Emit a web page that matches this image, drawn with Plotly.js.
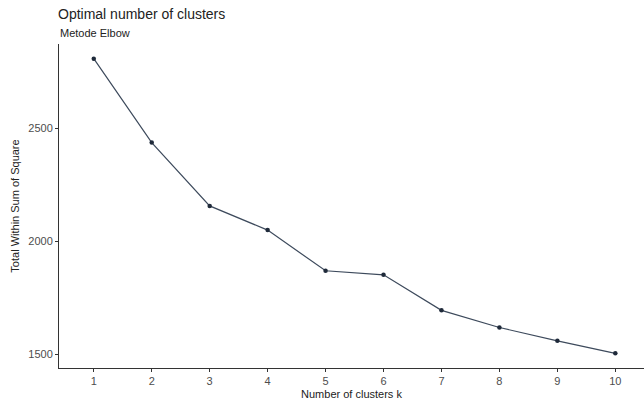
<!DOCTYPE html>
<html>
<head>
<meta charset="utf-8">
<script src="https://cdn.plot.ly/plotly-3.0.1.min.js"></script>
<style>html,body{margin:0;padding:0;background:#fff;}#chart{width:644px;height:405px;}</style>
</head>
<body>
<div id="chart"></div>
<script>
const clustersK = [1, 2, 3, 4, 5, 6, 7, 8, 9, 10];
const withinSS = [2807, 2436, 2156, 2049, 1869, 1851, 1694, 1618, 1559, 1504];
const yTicks = [1500, 2000, 2500];

const trace = {
  x: clustersK,
  y: withinSS,
  type: 'scatter',
  mode: 'lines+markers',
  line: {color: '#3d4a5c', width: 1.2},
  marker: {color: '#1f2a3a', size: 4.5},
  hoverinfo: 'x+y'
};

const layout = {
  width: 644,
  height: 405,
  margin: {l: 59, r: 0, t: 44, b: 37},
  paper_bgcolor: '#ffffff',
  plot_bgcolor: '#ffffff',
  showlegend: false,
  font: {family: 'Liberation Sans, Arial, sans-serif', color: '#4d4d4d', size: 11},
  title: {
    text: 'Optimal number of clusters',
    xref: 'container', x: 58 / 644, xanchor: 'left',
    yref: 'container', y: 1 - 14 / 405, yanchor: 'middle',
    font: {size: 14, color: '#222222', family: 'Liberation Sans, Arial, sans-serif'}
  },
  annotations: [{
    text: 'Metode Elbow',
    xref: 'paper', yref: 'paper',
    x: -1 / 585, y: 1 + 11 / 324,
    xanchor: 'left', yanchor: 'middle',
    showarrow: false,
    font: {size: 11, color: '#222222'}
  }],
  xaxis: {
    range: [0.4, 10.495],
    tickvals: clustersK,
    ticktext: clustersK.map(String),
    showgrid: false,
    zeroline: false,
    showline: true,
    linecolor: '#333333',
    linewidth: 1,
    ticks: 'outside',
    ticklen: 3,
    tickcolor: '#333333',
    tickfont: {size: 11, color: '#4d4d4d'},
    title: {text: 'Number of clusters k', standoff: 4, font: {size: 11, color: '#222222'}}
  },
  yaxis: {
    range: [1439, 2872],
    tickvals: yTicks,
    showgrid: false,
    zeroline: false,
    showline: true,
    linecolor: '#333333',
    linewidth: 1,
    ticks: 'outside',
    ticklen: 3,
    tickcolor: '#333333',
    tickfont: {size: 11, color: '#4d4d4d'},
    title: {text: 'Total Within Sum of Square', standoff: 6, font: {size: 11, color: '#222222'}}
  }
};

Plotly.newPlot('chart', [trace], layout, {displayModeBar: false, staticPlot: true});
</script>
</body>
</html>
